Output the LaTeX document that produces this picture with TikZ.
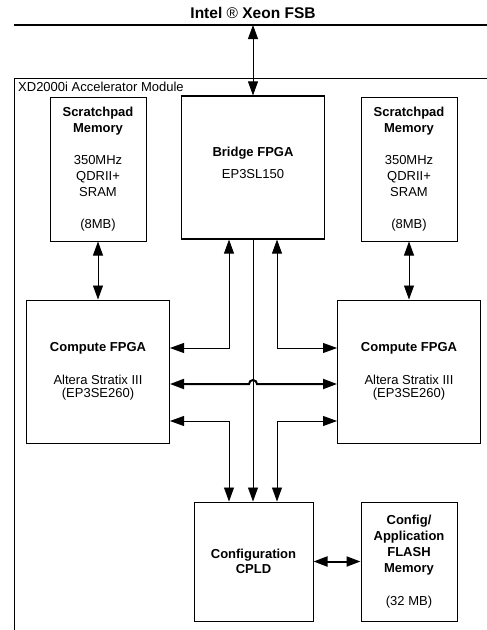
\documentclass[tikz,border=0pt]{standalone}
\usepackage{fontspec}
\setmainfont{Liberation Sans}
\usetikzlibrary{arrows.meta,positioning}

\begin{document}
\begin{tikzpicture}[
		x=1pt, y=-1pt,
		node distance=58pt,
		arrow/.style={-{Triangle[length=14pt,width=10pt]}, line width=0.8pt},
		biarrow/.style={{Triangle[length=14pt,width=10pt]}-{Triangle[length=14pt,width=10pt]}, line width=0.8pt},
		block/.style={draw, line width=1pt, minimum width=143pt, minimum height=143pt, inner sep=0pt, align=center, font=\fontsize{13}{16}\selectfont},
		mem/.style={block, minimum width=96pt, minimum height=144pt},
	]
		\useasboundingbox (0,0) rectangle (487,630);

		% front side bus and module frame
		\coordinate (busL) at (14,25);
		\coordinate (busR) at (487,25);
		\node (fsb) [font=\bfseries\fontsize{15.5}{17}\selectfont] at (253,13) {Intel {\mdseries ®} Xeon FSB};
		\draw[line width=2.7pt] (busL) -- (busR);
		\draw[line width=0.8pt] (14,632) -- (14,78) -- (489,78);
		\node (module) [anchor=west, inner sep=0pt, font=\fontsize{13}{16}\selectfont] at (18,87) {XD2000i Accelerator Module};

		% blocks
		\node (bridge) [block, line width=1.2pt] at (253,167.5) {\textbf{Bridge FPGA}\\[6pt]EP3SL150\\[-7pt]\mbox{}};
		\node (spL) [mem] at (98,169) {\textbf{Scratchpad}\\\textbf{Memory}\\[16pt]350MHz\\QDRII+\\SRAM\\[16pt](8MB)};
		\node (spR) [mem] at (409,169) {\textbf{Scratchpad}\\\textbf{Memory}\\[16pt]350MHz\\QDRII+\\SRAM\\[16pt](8MB)};
		\node (cL) [block, below=of spL] {\textbf{Compute FPGA}\\[17pt]Altera Stratix III\\[-3pt](EP3SE260)};
		\node (cR) [block, below=of spR] {\textbf{Compute FPGA}\\[17pt]Altera Stratix III\\[-3pt](EP3SE260)};
		\node (cpld) [block, minimum width=119pt, minimum height=119pt] at (253.5,561.5) {\textbf{Configuration}\\[-1pt]\textbf{CPLD}};
		\node (flash) [block, minimum width=96pt, minimum height=119pt, right=47pt of cpld] {\textbf{Config/}\\\textbf{Application}\\\textbf{FLASH}\\\textbf{Memory}\\[17pt](32 MB)};

		% links
		\draw[biarrow] (bridge.north) -- (bridge.north |- busL);
		\draw[biarrow] (spL) -- (cL);
		\draw[biarrow] (spR) -- (cR);
		\draw[biarrow] ([yshift=23.5pt]cL.east) -| ([xshift=-24pt]bridge.south);
		\draw[biarrow] ([yshift=23.5pt]cR.west) -| ([xshift=24pt]bridge.south);
		\draw[biarrow] ([xshift=-24.5pt]cpld.north) |- ([yshift=-49.5pt]cL.east);
		\draw[biarrow] ([xshift=23.5pt]cpld.north) |- ([yshift=-49.5pt]cR.west);
		\draw[arrow] (bridge.south) -- (bridge.south |- cpld.north);
		\coordinate (midL) at ([yshift=-12.5pt]cL.east);
		\coordinate (midR) at ([yshift=-12.5pt]cR.west);
		\coordinate (hop) at (midL -| bridge.south);
		\draw[biarrow, line width=2pt] (midL) -- ([xshift=-4pt]hop) arc[start angle=180, end angle=360, radius=4] -- (midR);
		\draw[biarrow, line width=2pt] (cpld) -- (flash);
	\end{tikzpicture}
\end{document}
